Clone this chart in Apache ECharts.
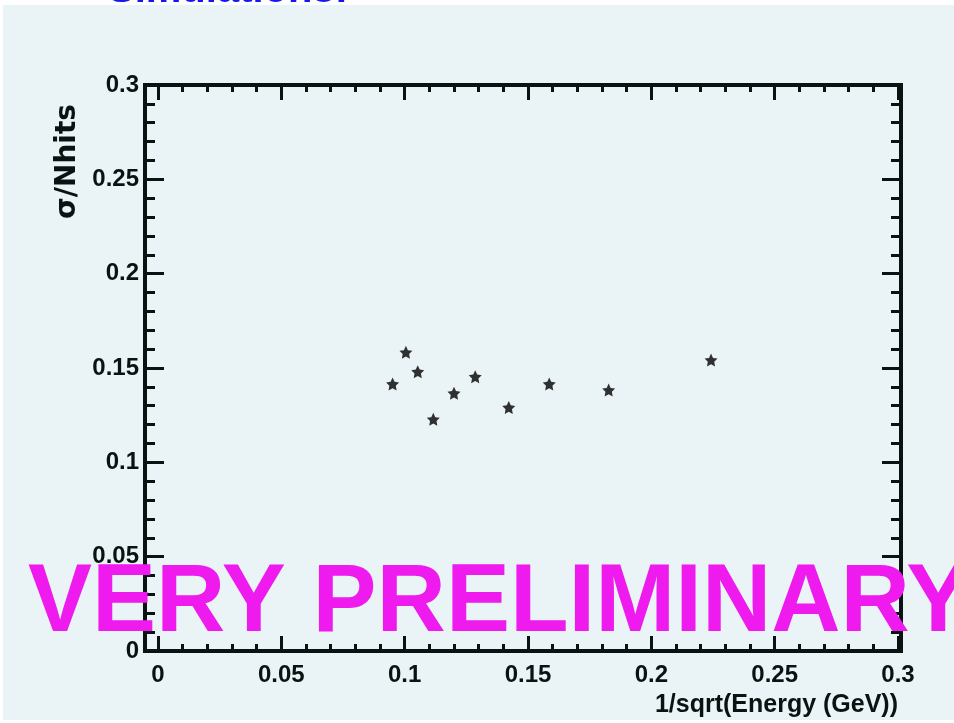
<!DOCTYPE html>
<html>
<head>
<meta charset="UTF-8">
<title>sigma/Nhits</title>
<script src="https://cdn.jsdelivr.net/npm/echarts@6/dist/echarts.min.js"></script>
<style>
  body { margin: 0; background: #ffffff; }
  #panel { position: absolute; left: 3px; top: 5px; width: 951px; height: 715px; background: #eaf3f5; }
  #main { position: absolute; left: 0; top: 0; width: 954px; height: 723px; }
</style>
</head>
<body>
<div id="panel"></div>
<div id="main"></div>
<script>
// values
var invSqrtE = [0.0951, 0.1005, 0.1053, 0.1116, 0.1200, 0.1286, 0.1422, 0.1586, 0.1827, 0.2242];
var sigmaOverN = [0.1415, 0.1583, 0.1480, 0.1228, 0.1366, 0.1454, 0.1291, 0.1415, 0.1383, 0.1542];
var xTitle = '1/sqrt(Energy (GeV))';
var yTitle = 'σ/Nhits';
var topText = 'Simulations!';
var stamp = 'VERY PRELIMINARY';

var ink = '#0b1212';
var labFont = { fontFamily: 'Liberation Sans', fontWeight: 'bold', fontSize: 24, color: ink };
var star = 'path://M0,-10L2.9,-4L9.5,-3.1L4.7,1.5L5.9,8.1L0,5L-5.9,8.1L-4.7,1.5L-9.5,-3.1L-2.9,-4Z';

var points = invSqrtE.map(function (x, i) { return [x, sigmaOverN[i]]; });

var myChart = echarts.init(document.getElementById('main'));

function xAx(pos, labels) {
  return {
    type: 'value', gridIndex: 1, position: pos, min: 0, max: 0.3, interval: 0.05,
    axisLine: { show: false },
    axisTick: { show: true, inside: true, length: 15, lineStyle: { color: ink, width: 3 } },
    minorTick: { show: true, splitNumber: 5, length: 7, lineStyle: { color: ink, width: 3 } },
    splitLine: { show: false },
    axisLabel: Object.assign({ show: labels, margin: 12, showMinLabel: true, showMaxLabel: true,
      formatter: function (v) { return String(+v.toFixed(2)); } }, labFont)
  };
}
function yAx(pos, labels) {
  return {
    type: 'value', gridIndex: 0, position: pos, min: 0, max: 0.3, interval: 0.05,
    axisLine: { show: false },
    axisTick: { show: true, inside: true, length: 19, lineStyle: { color: ink, width: 3 } },
    minorTick: { show: true, splitNumber: 5, length: 10, lineStyle: { color: ink, width: 3 } },
    splitLine: { show: false },
    axisLabel: Object.assign({ show: labels, margin: 6, showMinLabel: true, showMaxLabel: true,
      formatter: function (v) { return String(+v.toFixed(2)); } }, labFont)
  };
}

option = {
  animation: false,
  backgroundColor: 'transparent',
  grid: [
    { left: 145, right: 53, top: 85, bottom: 72, show: true, borderColor: ink, borderWidth: 4, backgroundColor: 'transparent' },
    { left: 158, right: 56, top: 85, bottom: 72 }
  ],
  xAxis: [
    { type: 'value', gridIndex: 0, min: 0, max: 1, show: false },
    xAx('bottom', true),
    xAx('top', false)
  ],
  yAxis: [
    yAx('left', true),
    yAx('right', false),
    { type: 'value', gridIndex: 1, min: 0, max: 0.3, show: false }
  ],
  series: [{
    type: 'scatter',
    xAxisIndex: 1,
    yAxisIndex: 2,
    symbol: star,
    symbolSize: 13,
    itemStyle: { color: '#000000' },
    data: points
  }],
  graphic: [
    { type: 'text', x: 108, y: 11, z: 10,
      style: { text: topText, align: 'left', verticalAlign: 'bottom', fontFamily: 'Liberation Sans', fontWeight: 'bold', fontSize: 40, fill: '#1616ee' } },
    { type: 'text', x: 898, y: 705, z: 10,
      style: { text: xTitle, align: 'right', verticalAlign: 'middle', fontFamily: 'Liberation Sans', fontWeight: 'bold', fontSize: 25, fill: ink } },
    { type: 'text', x: 68, y: 104, rotation: Math.PI / 2, z: 10,
      style: { text: yTitle, align: 'right', verticalAlign: 'middle', fontFamily: 'DejaVu Sans', fontWeight: 'bold', fontSize: 28, fill: ink } },
    { type: 'text', x: 28, y: 605, z: 100,
      style: { text: stamp, align: 'left', verticalAlign: 'middle', fontFamily: 'Liberation Sans', fontWeight: 'bold', fontSize: 96, fill: '#ee1aee' } }
  ]
};
myChart.setOption(option);
</script>
</body>
</html>
